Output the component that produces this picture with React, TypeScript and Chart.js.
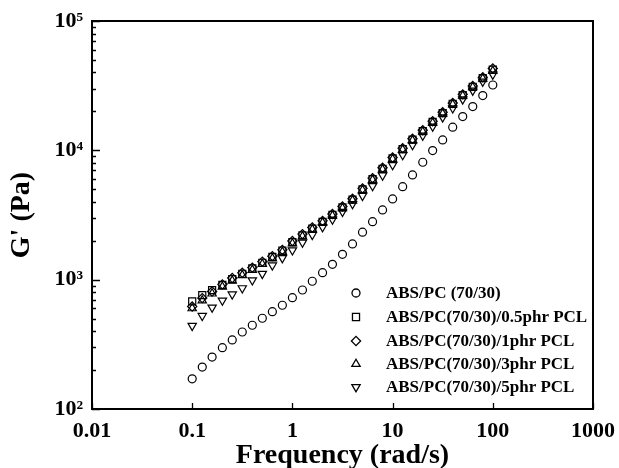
import React, { useEffect, useRef } from "react";
import { Chart, registerables } from "chart.js";
import { drawPoint } from "chart.js/helpers";

Chart.register(...registerables);

const frequency = [0.1, 0.126, 0.158, 0.2, 0.251, 0.316, 0.398, 0.501, 0.631, 0.794, 1, 1.26, 1.58, 2, 2.51, 3.16, 3.98, 5.01, 6.31, 7.94, 10, 12.6, 15.8, 20, 25.1, 31.6, 39.8, 50.1, 63.1, 79.4, 100];

const absPc = [171, 211, 252, 298, 342, 394, 444, 503, 566, 634, 726, 832, 972, 1133, 1315, 1571, 1889, 2330, 2810, 3460, 4210, 5240, 6450, 8090, 9950, 12030, 15090, 18240, 21790, 26500, 32000];
const pcl05 = [680, 760, 830, 910, 1010, 1110, 1220, 1350, 1500, 1680, 1950, 2200, 2480, 2800, 3170, 3620, 4150, 4980, 5980, 7200, 8650, 10200, 12100, 14100, 16600, 19400, 22900, 26700, 31000, 36200, 42000];
const pcl1 = [620, 720, 810, 920, 1030, 1130, 1240, 1380, 1520, 1700, 1990, 2250, 2530, 2850, 3220, 3680, 4220, 5080, 6100, 7330, 8800, 10400, 12300, 14300, 16800, 19700, 23200, 27100, 31500, 36700, 43000];
const pcl3 = [600, 690, 780, 880, 980, 1080, 1190, 1320, 1460, 1640, 1900, 2160, 2440, 2760, 3120, 3570, 4100, 4920, 5900, 7100, 8550, 10100, 11900, 13900, 16300, 19200, 22600, 26400, 30700, 35800, 41000];
const pcl5 = [440, 525, 610, 690, 770, 860, 990, 1110, 1290, 1470, 1690, 1940, 2220, 2550, 2920, 3350, 3850, 4450, 5300, 6400, 7700, 9200, 11000, 13000, 15300, 18000, 21200, 24800, 29000, 34000, 38500];

const seriesLabels = [
  "ABS/PC (70/30)",
  "ABS/PC(70/30)/0.5phr PCL",
  "ABS/PC(70/30)/1phr PCL",
  "ABS/PC(70/30)/3phr PCL",
  "ABS/PC(70/30)/5phr PCL",
];

const xTickValues = [0.01, 0.1, 1, 10, 100, 1000];
const xTickLabels = ["0.01", "0.1", "1", "10", "100", "1000"];
const yTickValues = [100, 1000, 10000, 100000];
const yTickLabels = ["10\u00B2", "10\u00B3", "10\u2074", "10\u2075"];

const SERIF = "'Liberation Serif', 'Times New Roman', serif";

const styles = [
  { pointStyle: "circle", radius: 4, rotation: 0 },
  { pointStyle: "rect", radius: 5, rotation: 0 },
  { pointStyle: "rectRot", radius: 4.6, rotation: 0 },
  { pointStyle: "triangle", radius: 4.8, rotation: 0 },
  { pointStyle: "triangle", radius: 4.8, rotation: 180 },
];

const frameAndTicks = {
  id: "frameAndTicks",
  afterDatasetsDraw(chart: any) {
    const { ctx, chartArea } = chart;
    const xs = chart.scales.x;
    const ys = chart.scales.y;
    ctx.save();
    ctx.strokeStyle = "#000";
    ctx.lineWidth = 2;
    ctx.strokeRect(chartArea.left, chartArea.top, chartArea.right - chartArea.left, chartArea.bottom - chartArea.top);
    ctx.lineWidth = 1.3;
    ctx.beginPath();
    for (let d = 100; d <= 100000; d *= 10) {
      for (let m = 1; m <= 9; m++) {
        const v = d * m;
        if (v > 100000) break;
        const py = Math.round(ys.getPixelForValue(v)) + 0.5;
        const len = m === 1 ? 8 : 4;
        ctx.moveTo(chartArea.left, py);
        ctx.lineTo(chartArea.left + len, py);
      }
    }
    for (const v of xTickValues) {
      const px = Math.round(xs.getPixelForValue(v)) + 0.5;
      ctx.moveTo(px, chartArea.bottom);
      ctx.lineTo(px, chartArea.bottom - 6);
    }
    ctx.stroke();

    // legend
    const lx = 356;
    const tx = 386;
    const rows = [293, 317, 341, 364, 387];
    ctx.font = "bold 17px " + SERIF;
    ctx.textBaseline = "middle";
    ctx.textAlign = "left";
    chart.data.datasets.forEach((ds: any, i: number) => {
      const st = styles[i];
      ctx.strokeStyle = "#000";
      ctx.fillStyle = "rgba(0,0,0,0)";
      drawPoint(ctx, { pointStyle: st.pointStyle as any, rotation: st.rotation, radius: st.radius, borderWidth: 1.3 }, lx, rows[i]);
      ctx.fillStyle = "#000";
      ctx.fillText(ds.label, tx, rows[i] + 1);
    });
    ctx.restore();
  },
};

export default function App() {
  const ref = useRef<HTMLCanvasElement | null>(null);
  useEffect(() => {
    if (!ref.current) return;
    const seriesValues = [absPc, pcl05, pcl1, pcl3, pcl5];
    const chart = new Chart(ref.current, {
      type: "scatter",
      data: {
        datasets: seriesValues.map((vals, i) => ({
          label: seriesLabels[i],
          data: frequency.map((f, j) => ({ x: f, y: vals[j] })),
          pointStyle: styles[i].pointStyle as any,
          pointRadius: styles[i].radius,
          pointRotation: styles[i].rotation,
          pointBorderWidth: 1.2,
          borderColor: "#000",
          backgroundColor: "rgba(0,0,0,0)",
          pointBackgroundColor: "rgba(0,0,0,0)",
          showLine: false,
        })),
      },
      options: {
        responsive: false,
        animation: false,
        events: [],
        layout: { padding: { top: 21, right: 26, left: 0, bottom: 0 } },
        plugins: { legend: { display: false }, tooltip: { enabled: false } },
        scales: {
          x: {
            type: "logarithmic",
            min: 0.01,
            max: 1000,
            grid: { display: false, drawTicks: false },
            border: { display: false },
            afterBuildTicks: (s: any) => {
              s.ticks = xTickValues.map((v) => ({ value: v }));
            },
            afterFit: (s: any) => {
              s.height = 59;
              s.paddingLeft = 0;
              s.paddingRight = 0;
            },
            ticks: {
              autoSkip: false,
              maxRotation: 0,
              padding: 9,
              color: "#000",
              font: { family: SERIF, weight: "bold", size: 22 },
              callback: (v: any) => {
                const i = xTickValues.indexOf(Number(v));
                return i >= 0 ? xTickLabels[i] : "";
              },
            },
            title: {
              display: true,
              text: "Frequency (rad/s)",
              color: "#000",
              font: { family: SERIF, weight: "bold", size: 28, lineHeight: 1 },
              padding: { top: -1.5, bottom: -1.5 },
            },
          },
          y: {
            type: "logarithmic",
            min: 100,
            max: 100000,
            grid: { display: false, drawTicks: false },
            border: { display: false },
            afterBuildTicks: (s: any) => {
              s.ticks = yTickValues.map((v) => ({ value: v }));
            },
            afterFit: (s: any) => {
              s.width = 92;
              s.paddingTop = 0;
              s.paddingBottom = 0;
            },
            ticks: {
              autoSkip: false,
              padding: 9,
              color: "#000",
              font: { family: SERIF, weight: "bold", size: 22 },
              callback: (v: any) => {
                const i = yTickValues.indexOf(Number(v));
                return i >= 0 ? yTickLabels[i] : "";
              },
            },
            title: {
              display: true,
              text: "G' (Pa)",
              color: "#000",
              font: { family: SERIF, weight: "bold", size: 28, lineHeight: 1 },
              padding: { top: 8, bottom: 0 },
            },
          },
        },
      },
      plugins: [frameAndTicks],
    });
    return () => chart.destroy();
  }, []);
  return (
    <div style={{ position: "absolute", left: 0, top: 0, width: 619, height: 468, background: "#fff" }}>
      <canvas ref={ref} width={619} height={468} style={{ width: 619, height: 468, display: "block" }} />
    </div>
  );
}
